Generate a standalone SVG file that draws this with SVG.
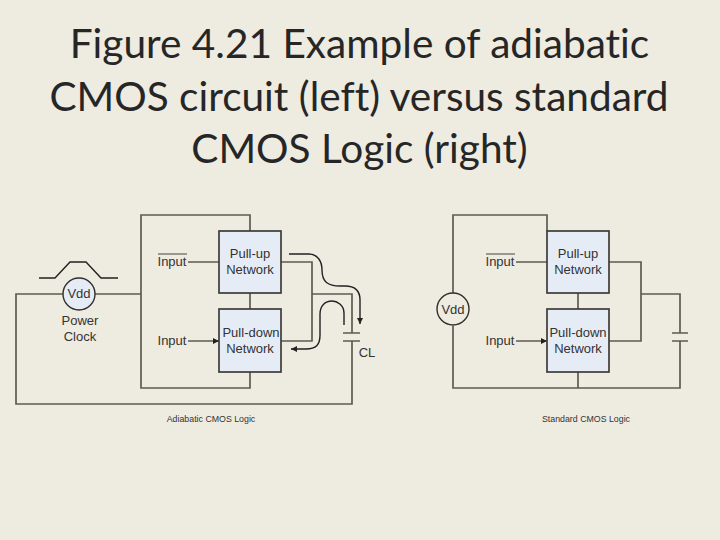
<svg xmlns="http://www.w3.org/2000/svg" width="720" height="540" viewBox="0 0 720 540">
<style>
.title{font-family:Lato,"Liberation Sans",sans-serif;font-size:40.6px;fill:#262626;text-anchor:middle;font-variant-ligatures:none}
.t{font-family:"Liberation Sans",Arial,sans-serif;font-size:13px;fill:#333;text-anchor:middle}
.c{font-family:"Liberation Sans",Arial,sans-serif;font-size:8.8px;fill:#333;text-anchor:middle}
.w{fill:none;stroke:#5f5b50;stroke-width:1.7}
.b{fill:#e6ecf6;stroke:#3c3c38;stroke-width:1.7}
.k{fill:none;stroke:#222;stroke-width:1.4}
.o{fill:none;stroke:#444;stroke-width:1}
</style>
<defs>
<marker id="a" markerWidth="7" markerHeight="7" refX="6" refY="3" orient="auto" markerUnits="userSpaceOnUse"><path d="M0 0L6 3L0 6Z" fill="#222"/></marker>
</defs>
<rect width="720" height="540" fill="#eeebe1"/>
<g id="title">
<text class="title" x="359.500" y="58">Figure 4.21 Example of adiabatic</text>
<text class="title" x="359" y="111">CMOS circuit (left) versus standard</text>
<text class="title" x="359.500" y="163">CMOS Logic (right)</text>
</g>
<g id="connectors">
<path class="w" d="M250 231V215H141V388H250V372M250 293V309"/>
<path class="w" d="M95 294H141M63 294H16V404H352V341M343 341H360M343 333H360M352 333V294H312M281 262H312V341H281"/>
<path class="w" d="M188 262H219M188 341H219" marker-end="url(#a)"/>
<path class="k" d="M39 278H55L70 262H86L101 278H118"/>
<path class="k" d="M289 254H309C318 254 322 262 322 270C322 282 328 286 340 286H345C356 286 360 292 360 300V324" marker-end="url(#a)"/>
<path class="k" d="M344 325V313C344 305 337 301 332 301C325 301 320 306 320 314V335C320 345 316 349 306 349H291" marker-end="url(#a)"/>
<path class="w" d="M547 231V215H453V293M453 326V388H680V341M672 341H688M672 333H688M680 333V294H641M609 262H641V341H609M578 293V309M578 372V388"/>
<path class="w" d="M516 262H547M516 341H547" marker-end="url(#a)"/>
<path class="o" d="M158 254H187M486 254H515"/>
</g>
<g id="pullup-left"><rect class="b" x="219" y="231" width="62" height="62"/><text class="t" x="250" y="258">Pull-up</text><text class="t" x="250" y="274">Network</text></g>
<g id="pulldown-left"><rect class="b" x="219" y="309" width="62" height="63"/><text class="t" x="251" y="337">Pull-down</text><text class="t" x="250" y="353">Network</text></g>
<g id="vdd-left"><circle cx="79" cy="294" r="16" fill="#e6ecf6" stroke="#2f2f2c" stroke-width="1.4"/><text class="t" x="79" y="298">Vdd</text></g>
<g id="labels-left">
<text class="t" x="80" y="325">Power</text><text class="t" x="80" y="341">Clock</text>
<text class="t" x="172" y="266">Input</text><text class="t" x="172" y="345">Input</text>
<text class="t" x="367" y="357">CL</text>
<text class="c" x="211" y="422">Adiabatic CMOS Logic</text>
</g>
<g id="pullup-right"><rect class="b" x="547" y="231" width="62" height="62"/><text class="t" x="578" y="258">Pull-up</text><text class="t" x="578" y="274">Network</text></g>
<g id="pulldown-right"><rect class="b" x="547" y="309" width="62" height="63"/><text class="t" x="578" y="337">Pull-down</text><text class="t" x="578" y="353">Network</text></g>
<g id="vdd-right"><circle cx="453" cy="309" r="16" fill="#eeebe1" stroke="#2f2f2c" stroke-width="1.4"/><text class="t" x="453" y="314">Vdd</text></g>
<g id="labels-right">
<text class="t" x="500" y="266">Input</text><text class="t" x="500" y="345">Input</text>
<text class="c" x="586" y="422">Standard CMOS Logic</text>
</g>
</svg>
